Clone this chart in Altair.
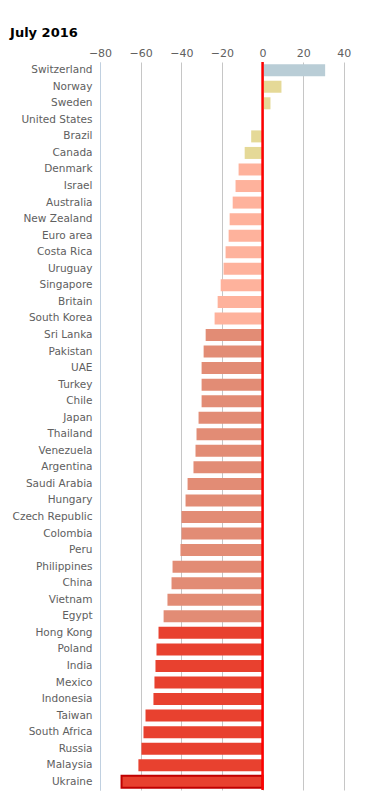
import altair as alt
import pandas as pd

countries = ["Switzerland", "Norway", "Sweden", "United States", "Brazil", "Canada",
             "Denmark", "Israel", "Australia", "New Zealand", "Euro area", "Costa Rica",
             "Uruguay", "Singapore", "Britain", "South Korea", "Sri Lanka", "Pakistan",
             "UAE", "Turkey", "Chile", "Japan", "Thailand", "Venezuela", "Argentina",
             "Saudi Arabia", "Hungary", "Czech Republic", "Colombia", "Peru",
             "Philippines", "China", "Vietnam", "Egypt", "Hong Kong", "Poland", "India",
             "Mexico", "Indonesia", "Taiwan", "South Africa", "Russia", "Malaysia", "Ukraine"]
values = [30.8, 9.3, 3.9, 0.0, -5.6, -8.8,
          -11.8, -13.3, -14.7, -16.2, -16.7, -18.2,
          -19.2, -20.6, -22.1, -23.6, -28.0, -29.0,
          -30.0, -30.0, -30.0, -31.5, -32.5, -33.0, -34.0,
          -36.9, -37.9, -39.9, -39.9, -40.4,
          -44.3, -44.8, -46.8, -48.7, -51.2, -52.2, -52.7,
          -53.2, -53.7, -57.6, -58.6, -59.6, -61.1, -69.4]
groups = ["blue"] + ["yellow"] * 5 + ["light"] * 10 + ["mid"] * 18 + ["red"] * 10
highlight = ["Ukraine"]

group_names = ["blue", "yellow", "light", "mid", "red"]
group_colors = ["#b9cdd6", "#e5d997", "#feb29c", "#e28c75", "#e8412f"]
x_ticks = [-80, -60, -40, -20, 0, 20, 40]

df = pd.DataFrame({"country": countries, "value": values, "group": groups})
df["hl"] = df["country"].isin(highlight)

FONT = "DejaVu Sans"

x_scale = alt.Scale(domain=[-80, 45], nice=False, zero=False)
y_enc = alt.Y("country:N", sort=countries, title=None,
              scale=alt.Scale(paddingInner=0.27, paddingOuter=0.13),
              axis=alt.Axis(ticks=False, domain=True, domainColor="#c0d0e0",
                            domainWidth=1, labelPadding=8, labelColor="#606060",
                            labelFontSize=10.5, labelFont=FONT, grid=False))

bars = alt.Chart(df).mark_bar(size=12).encode(
    x=alt.X("value:Q", scale=x_scale, title=None,
            axis=alt.Axis(orient="top", values=x_ticks, ticks=False, domain=False,
                          grid=True, gridColor="#c6c6c6", gridWidth=1,
                          labelColor="#606060", labelFontSize=11, labelFont=FONT,
                          labelPadding=4, labelFlush=False, labelOverlap=False)),
    y=y_enc,
    color=alt.Color("group:N", scale=alt.Scale(domain=group_names, range=group_colors),
                    legend=None),
    stroke=alt.condition("datum.hl", alt.value("#c00000"), alt.value(None)),
    strokeWidth=alt.condition("datum.hl", alt.value(2), alt.value(0)),
)

zero = alt.Chart(pd.DataFrame({"x": [0]})).mark_rule(color="#ff0000", strokeWidth=2.5).encode(
    x=alt.X("x:Q", scale=x_scale)
)

chart = alt.layer(bars, zero).properties(
    width=254,
    height=728,
    autosize=alt.AutoSizeParams(type="none"),
    padding={"left": 92, "top": 54, "right": 4, "bottom": 2},
    title=alt.TitleParams("July 2016", anchor="start", frame="bounds", dx=-2, offset=7,
                          font=FONT, fontSize=13, fontWeight="bold", color="#000000"),
).configure_view(stroke=None)

chart.save("out.html", embed_options={"renderer": "svg", "actions": False})
